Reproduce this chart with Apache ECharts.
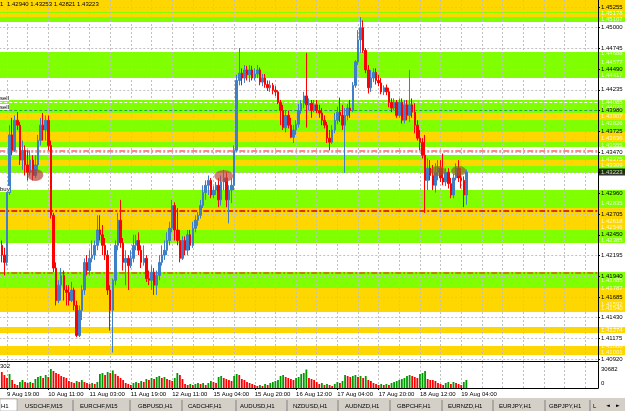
<!DOCTYPE html>
<html><head><meta charset="utf-8">
<script src="https://cdn.jsdelivr.net/npm/echarts@6/dist/echarts.min.js"></script>
<style>html,body{margin:0;padding:0;background:#fff;overflow:hidden}#c{width:625px;height:411px}</style>
</head><body><div id="c"></div>
<script>
// ---------------- DATA ----------------
const daySegs = [['9 Aug',16,23],['10 Aug',0,23],['11 Aug',0,23],['12 Aug',0,22],['15 Aug',0,23],['16 Aug',0,23],['17 Aug',0,23],['18 Aug',0,23],['19 Aug',0,23],['22 Aug',0,23],['23 Aug',0,9]];
// [open, close, low, high]
const ohlc = [
[1.4232,1.4220,1.4211,1.4238],[1.4220,1.4211,1.4195,1.4229],[1.4211,1.4297,1.4207,1.4302],[1.4297,1.4368,1.4294,1.4380],
[1.4368,1.4349,1.4343,1.4389],[1.4349,1.4386,1.4347,1.4392],[1.4386,1.4380,1.4374,1.4396],[1.4380,1.4337,1.4331,1.4384],
[1.4337,1.4349,1.4325,1.4361],[1.4349,1.4331,1.4318,1.4355],[1.4331,1.4322,1.4312,1.4349],[1.4322,1.4337,1.4318,1.4349],
[1.4337,1.4318,1.4312,1.4343],[1.4318,1.4331,1.4315,1.4343],[1.4331,1.4361,1.4325,1.4368],[1.4361,1.4380,1.4355,1.4389],
[1.4380,1.4374,1.4361,1.4395],[1.4374,1.4386,1.4361,1.4392],[1.4386,1.4355,1.4349,1.4392],[1.4355,1.4269,1.4265,1.4361],
[1.4269,1.4204,1.4199,1.4272],[1.4204,1.4164,1.4158,1.4211],[1.4164,1.4183,1.4161,1.4189],[1.4183,1.4195,1.4164,1.4204],
[1.4195,1.4177,1.4164,1.4201],[1.4177,1.4174,1.4158,1.4183],[1.4174,1.4164,1.4158,1.4183],[1.4164,1.4177,1.4162,1.4187],
[1.4177,1.4158,1.4152,1.4180],[1.4158,1.4121,1.4119,1.4164],[1.4121,1.4152,1.4119,1.4158],[1.4152,1.4177,1.4140,1.4183],
[1.4177,1.4211,1.4171,1.4216],[1.4211,1.4201,1.4195,1.4220],[1.4201,1.4216,1.4195,1.4226],[1.4216,1.4220,1.4211,1.4238],
[1.4220,1.4232,1.4214,1.4238],[1.4232,1.4251,1.4226,1.4269],[1.4251,1.4245,1.4238,1.4269],[1.4245,1.4232,1.4220,1.4257],
[1.4232,1.4220,1.4214,1.4241],[1.4220,1.4177,1.4171,1.4226],[1.4177,1.4152,1.4127,1.4183],[1.4152,1.4189,1.4100,1.4191],
[1.4189,1.4232,1.4183,1.4238],[1.4232,1.4263,1.4226,1.4272],[1.4263,1.4235,1.4229,1.4288],[1.4235,1.4211,1.4201,1.4241],
[1.4211,1.4216,1.4183,1.4226],[1.4216,1.4207,1.4177,1.4220],[1.4207,1.4216,1.4204,1.4226],[1.4216,1.4232,1.4211,1.4245],
[1.4232,1.4238,1.4226,1.4245],[1.4238,1.4226,1.4220,1.4248],[1.4226,1.4211,1.4204,1.4232],[1.4211,1.4216,1.4207,1.4232],
[1.4216,1.4191,1.4187,1.4220],[1.4191,1.4189,1.4183,1.4201],[1.4189,1.4199,1.4177,1.4207],[1.4199,1.4183,1.4171,1.4204],
[1.4183,1.4195,1.4171,1.4201],[1.4195,1.4211,1.4189,1.4220],[1.4211,1.4220,1.4207,1.4232],[1.4220,1.4226,1.4214,1.4238],
[1.4226,1.4238,1.4220,1.4248],[1.4238,1.4253,1.4232,1.4261],[1.4253,1.4281,1.4248,1.4288],[1.4281,1.4251,1.4238,1.4285],
[1.4251,1.4238,1.4232,1.4278],[1.4238,1.4216,1.4211,1.4251],[1.4216,1.4238,1.4214,1.4243],[1.4238,1.4226,1.4220,1.4243],
[1.4226,1.4245,1.4220,1.4251],[1.4245,1.4232,1.4226,1.4251],[1.4232,1.4253,1.4229,1.4261],[1.4253,1.4263,1.4248,1.4269],
[1.4263,1.4269,1.4256,1.4273],[1.4269,1.4281,1.4265,1.4288],[1.4281,1.4297,1.4278,1.4306],[1.4297,1.4306,1.4288,1.4312],
[1.4306,1.4312,1.4294,1.4318],[1.4312,1.4294,1.4290,1.4315],[1.4294,1.4300,1.4290,1.4305],[1.4300,1.4306,1.4294,1.4310],
[1.4306,1.4288,1.4279,1.4315],[1.4288,1.4310,1.4281,1.4318],[1.4310,1.4315,1.4300,1.4325],[1.4315,1.4288,1.4279,1.4322],
[1.4288,1.4300,1.4259,1.4306],[1.4300,1.4306,1.4284,1.4315],[1.4306,1.4349,1.4300,1.4355],[1.4349,1.4435,1.4347,1.4442],
[1.4435,1.4444,1.4429,1.4475],[1.4444,1.4438,1.4429,1.4450],[1.4438,1.4448,1.4432,1.4454],[1.4448,1.4442,1.4435,1.4453],
[1.4442,1.4448,1.4433,1.4454],[1.4448,1.4438,1.4435,1.4453],[1.4438,1.4443,1.4435,1.4450],[1.4443,1.4448,1.4438,1.4454],
[1.4448,1.4433,1.4429,1.4451],[1.4433,1.4438,1.4428,1.4443],[1.4438,1.4430,1.4426,1.4443],[1.4430,1.4426,1.4422,1.4435],
[1.4426,1.4429,1.4421,1.4435],[1.4429,1.4423,1.4418,1.4432],[1.4423,1.4421,1.4416,1.4428],[1.4421,1.4408,1.4406,1.4423],
[1.4408,1.4398,1.4380,1.4411],[1.4398,1.4377,1.4374,1.4405],[1.4377,1.4392,1.4371,1.4398],[1.4392,1.4380,1.4376,1.4398],
[1.4380,1.4365,1.4364,1.4389],[1.4365,1.4374,1.4358,1.4380],[1.4374,1.4381,1.4368,1.4386],[1.4381,1.4398,1.4377,1.4406],
[1.4398,1.4407,1.4394,1.4411],[1.4407,1.4416,1.4401,1.4421],[1.4416,1.4405,1.4377,1.4469],[1.4405,1.4407,1.4398,1.4413],
[1.4407,1.4398,1.4389,1.4411],[1.4398,1.4405,1.4396,1.4411],[1.4405,1.4398,1.4395,1.4411],[1.4398,1.4395,1.4389,1.4405],
[1.4395,1.4386,1.4380,1.4401],[1.4386,1.4380,1.4376,1.4392],[1.4380,1.4364,1.4358,1.4384],[1.4364,1.4359,1.4349,1.4374],
[1.4359,1.4374,1.4357,1.4380],[1.4374,1.4386,1.4370,1.4395],[1.4386,1.4396,1.4381,1.4403],[1.4396,1.4392,1.4384,1.4414],
[1.4392,1.4380,1.4374,1.4405],[1.4380,1.4392,1.4321,1.4401],[1.4392,1.4401,1.4386,1.4406],[1.4401,1.4398,1.4389,1.4411],
[1.4398,1.4429,1.4396,1.4433],[1.4429,1.4458,1.4426,1.4460],[1.4458,1.4485,1.4454,1.4497],[1.4485,1.4500,1.4469,1.4513],
[1.4500,1.4472,1.4469,1.4509],[1.4472,1.4448,1.4444,1.4475],[1.4448,1.4426,1.4419,1.4454],[1.4426,1.4438,1.4421,1.4448],
[1.4438,1.4445,1.4433,1.4450],[1.4445,1.4435,1.4430,1.4450],[1.4435,1.4432,1.4428,1.4442],[1.4432,1.4421,1.4418,1.4438],
[1.4421,1.4426,1.4417,1.4429],[1.4426,1.4421,1.4417,1.4430],[1.4421,1.4408,1.4402,1.4426],[1.4408,1.4401,1.4396,1.4413],
[1.4401,1.4408,1.4398,1.4413],[1.4408,1.4392,1.4389,1.4411],[1.4392,1.4408,1.4389,1.4413],[1.4408,1.4386,1.4382,1.4413],
[1.4386,1.4405,1.4382,1.4411],[1.4405,1.4392,1.4386,1.4411],[1.4392,1.4405,1.4384,1.4448],[1.4405,1.4396,1.4389,1.4413],
[1.4396,1.4380,1.4370,1.4407],[1.4380,1.4364,1.4361,1.4386],[1.4364,1.4359,1.4349,1.4374],[1.4359,1.4343,1.4339,1.4364],
[1.4343,1.4312,1.4272,1.4368],[1.4312,1.4327,1.4300,1.4339],[1.4327,1.4318,1.4312,1.4337],[1.4318,1.4306,1.4300,1.4331],
[1.4306,1.4322,1.4297,1.4333],[1.4322,1.4327,1.4312,1.4337],[1.4327,1.4315,1.4310,1.4337],[1.4315,1.4310,1.4306,1.4345],
[1.4310,1.4322,1.4305,1.4327],[1.4322,1.4308,1.4302,1.4327],[1.4308,1.4294,1.4290,1.4315],[1.4294,1.4315,1.4290,1.4320],
[1.4315,1.4327,1.4312,1.4333],[1.4327,1.4315,1.4310,1.4337],[1.4315,1.4312,1.4302,1.4327],[1.4312,1.4294,1.4279,1.4317],
[1.42940,1.43223,1.42821,1.43253]
];
const volumes = [
25840,21000,16150,22610,12920,6460,4850,9690,12920,9690,8075,9690,8075,14535,17765,19380,16150,21000,17765,30682,
27455,24225,22610,19380,17765,16150,11305,9690,8075,11305,9690,12920,9690,8075,6460,8075,6460,9690,22610,24225,
21000,25840,24225,28400,22610,19380,16150,12920,8075,6460,4850,8075,9690,8075,11305,9690,14535,12920,16150,14535,
17765,19380,16150,17765,14535,12920,11305,16150,24225,21000,14535,6460,4850,6460,4850,6460,8075,6460,8075,4850,
8075,11305,9690,8075,17765,19380,16150,14535,12920,11305,19380,22610,21000,14535,12920,9690,8075,6460,4850,3230,
4850,3230,6460,4850,8075,9690,11305,12920,19380,21000,17765,16150,14535,12920,16150,17765,22610,24225,29900,16150,
14535,12920,9690,6460,8075,4850,6460,4850,3230,6460,9690,8075,11305,21000,19380,17765,19380,21000,17765,19380,
16150,19380,12920,11305,8075,6460,4850,6460,4850,6460,4850,8075,9690,11305,12920,14535,16150,19380,21000,19380,
17765,16150,22610,24225,27455,14535,12920,12900,11305,8075,6460,4850,8075,9690,6460,9690,8075,6460,4850,9690,12920
];
const priceTickLabels = [1.45255,1.45000,1.44745,1.44490,1.44235,1.43980,1.43725,1.43470,1.42960,1.42705,1.42450,1.42195,1.41940,1.41685,1.41430,1.41175,1.40920];
const hiddenTick = [1.43215];
const volTickLabels = [0, 30682];
const bandHi = [1.45341,1.45193,1.45181,1.45132,1.44701,1.44110,1.43949,1.43863,1.43715,1.43592,1.43432,1.43371,1.43297,1.43001,1.42779,1.42509,1.41991,1.41794,1.41314,1.41080];
const bandLo = [1.45193,1.45181,1.45132,1.45070,1.44380,1.43949,1.43863,1.43715,1.43592,1.43531,1.43371,1.43297,1.43211,1.42779,1.42509,1.42349,1.41794,1.41499,1.41240,1.40969];
const bandKind = ['Y','G','Y','G','G','G','Y','G','Y','G','G','Y','G','G','Y','G','G','Y','Y','Y'];
const levelPrices = [1.44085,1.43986,1.43482,1.42743,1.41979];
const sideLabels = [1.45178,1.45107,1.44688,1.44577,1.44417,1.44085,1.44023,1.43907,1.43826,1.43636,1.43555,1.43375,1.43309,1.42835,1.42618,1.42546,1.42385,1.42016,1.41885,1.41787,1.41592,1.41540,1.41314,1.41274,1.41080,1.41001];
const ellipseCat = [14, 87, 170, 178];
const ellipsePrice = [1.43186, 1.43174, 1.43235, 1.43235];
const tabNames = ['USDCHF,M15','EURCHF,M15','GBPUSD,H1','CADCHF,H1','AUDUSD,H1','NZDUSD,H1','AUDNZD,H1','GBPCHF,H1','EURNZD,H1','EURJPY,H1','GBPJPY,H1','L'];

// ---------------- STYLE / LAYOUT ----------------
const FONT = 'Liberation Sans';
const YMIN = 1.40896, YMAX = 1.45341;
const BULL = '#3F7FC7', BEAR = '#FF0000';
const BAND_COLORS = {Y:'#FFD700', G:'#7FFF00'};
const levelStyles = [
  {color:'#FFFFFF', type:[3,2], width:1},
  {color:'#1FB51F', type:[3,2], width:1},
  {color:'#FF6464', type:[6,2,2,2], width:1.5},
  {color:'#D00000', type:[6,2,2,2], width:1.5},
  {color:'#B8860B', type:[6,2,2,2], width:2}
];
const ellipseSizes = [[16,12],[19,12],[15,10],[15,10]];
const ellipseColors = ['rgba(178,62,52,0.85)','rgba(190,70,60,0.85)','rgba(150,95,40,0.85)','rgba(150,95,40,0.85)'];

const cats = [];
daySegs.forEach(([d,a,b]) => { for (let h=a; h<=b; h++) cats.push(d+' '+String(h).padStart(2,'0')+':00'); });
const FIRST = 1;
const LAST = FIRST + ohlc.length - 1;
const labelInt = (k) => (k-3) % 16 === 0 && k <= LAST;
const gridInt = (k) => (k-3) % 8 === 0;

const bandAreas = bandHi.map((h,i) => [{yAxis:h, itemStyle:{color:BAND_COLORS[bandKind[i]]}}, {yAxis:bandLo[i]}]);
const splitStyle = {show:true, interval:gridInt, lineStyle:{color:'#C0C0C0', type:[2,2], width:1}};

const volData = ['-'].concat(volumes.map((v,i) => ({value:v, itemStyle:{color: (i>0 && v>volumes[i-1]) ? '#009A00' : '#FF0000'}})));
const last = ohlc[ohlc.length-1];
const headerText = [last[0], last[3], last[2], last[1]].map(v=>v.toFixed(5)).join(' ');

const option = {
  animation:false,
  backgroundColor:'#FFFFFF',
  textStyle:{fontFamily:FONT},
  grid:[
    {left:-0.75, right:27, top:0, height:361, outerBoundsMode:'none'},
    {left:-0.75, right:27, top:362, height:26, outerBoundsMode:'none'},
    {left:599, right:0, top:0, height:361, outerBoundsMode:'none'}
  ],
  xAxis:[
    {type:'category', gridIndex:0, data:cats, boundaryGap:false, z:3,
     axisLine:{show:true, lineStyle:{color:'#000', width:1}}, axisTick:{show:false}, axisLabel:{show:false},
     splitLine:splitStyle},
    {type:'category', gridIndex:1, data:cats, boundaryGap:false, z:3,
     axisLine:{show:true, lineStyle:{color:'#000', width:1}},
     axisTick:{show:true, interval:labelInt, length:2, lineStyle:{color:'#000'}},
     axisLabel:{show:true, interval:labelInt, align:'left', fontSize:6, color:'#000', margin:3, fontFamily:FONT},
     splitLine:splitStyle},
    {type:'value', gridIndex:2, min:0, max:1, show:false}
  ],
  yAxis:[
    {type:'value', gridIndex:0, position:'right', min:YMIN, max:YMAX, z:3,
     axisLine:{show:true, lineStyle:{color:'#000', width:1}},
     axisTick:{show:true, length:2, customValues:priceTickLabels.concat(hiddenTick), lineStyle:{color:'#000'}},
     axisLabel:{show:true, customValues:priceTickLabels, formatter:v=>v.toFixed(5), fontSize:6, color:'#000', margin:3, fontFamily:FONT},
     splitLine:{show:true, lineStyle:{color:'#C0C0C0', type:[2,2], width:1}}},
    {type:'value', gridIndex:1, position:'right', min:0, max:42000, z:3,
     axisLine:{show:true, lineStyle:{color:'#000', width:1}}, axisTick:{show:false},
     axisLabel:{show:true, customValues:volTickLabels, margin:3, color:'#000', fontSize:6,
       formatter:v=> v===0 ? '{z|0}' : '{t|'+v+'}',
       rich:{z:{fontSize:6, fontFamily:FONT, padding:[0,0,10,0]}, t:{fontSize:6, fontFamily:FONT}}},
     splitLine:{show:false}},
    {type:'value', gridIndex:2, min:YMIN, max:YMAX, show:false}
  ],
  series:[
    {type:'line', xAxisIndex:0, yAxisIndex:0, data:[], z:1, silent:true,
     markArea:{silent:true, z:1, data:bandAreas}},
    {type:'line', xAxisIndex:0, yAxisIndex:0, data:[], z:4, silent:true,
     markLine:{silent:true, z:4, precision:5, symbol:['none','none'], label:{show:false},
       data: levelPrices.map((p,i)=>({yAxis:p, lineStyle:levelStyles[i]}))}},
    {type:'candlestick', xAxisIndex:0, yAxisIndex:0, z:5, barWidth:2,
     data:['-'].concat(ohlc),
     itemStyle:{color:BULL, color0:BEAR, borderColor:BULL, borderColor0:BEAR, borderWidth:1}},
    {type:'scatter', xAxisIndex:0, yAxisIndex:0, z:6, silent:true,
     data: ellipseCat.map((c,i)=>({value:[c, ellipsePrice[i]], symbolSize:ellipseSizes[i], itemStyle:{color:ellipseColors[i]}})),
     symbol:'circle'},
    {type:'bar', xAxisIndex:1, yAxisIndex:1, z:5, barWidth:1.8, data:volData},
    {type:'scatter', xAxisIndex:2, yAxisIndex:2, z:2, silent:true, symbolSize:0,
     markArea:{silent:true, z:1, data:bandAreas},
     data: sideLabels.map(p=>[0,p]),
     label:{show:true, position:'right', distance:2, color:'#FFFFFF', fontSize:6, fontFamily:FONT,
       formatter:p=>p.value[1].toFixed(5)}},
    {type:'scatter', xAxisIndex:2, yAxisIndex:2, z:6, silent:true, symbolSize:0,
     data:[[0, last[1]]],
     label:{show:true, position:'right', distance:0, color:'#FFFFFF', backgroundColor:'#000000', padding:[1,3,0,2],
       fontSize:6, fontFamily:FONT, formatter:p=>p.value[1].toFixed(5)}}
  ],
  graphic:[]
};

// header + object labels + tab bar (UI text)
const g = option.graphic;
const txt = (x,y,t,extra) => Object.assign({type:'text', x:x, y:y, z:50, style:Object.assign({text:t, fill:'#000', font:'6px "'+FONT+'"'}, extra||{})});
g.push(txt(0,1,'1'));
g.push(txt(7,1,headerText));
g.push(txt(0,95,'sell',{backgroundColor:'#fff'}));
g.push(txt(0,104,'sell',{backgroundColor:'#fff'}));
g.push(txt(0,186,'buy',{backgroundColor:'#fff'}));
g.push(txt(0,363,'302'));
// tab bar
g.push({type:'rect', z:40, shape:{x:0,y:398,width:625,height:13}, style:{fill:'#D4D0C8'}});
g.push({type:'rect', z:41, shape:{x:0,y:399,width:17,height:12}, style:{fill:'#FFFFFF', stroke:'#808080', lineWidth:0.5}});
g.push(txt(1,403,'H1'));
const sepX = [73,130,182,236,287,338,390,442,493,545,590];
const tabX = [25,80,138,188,240,293,345,397,448,499,549,593];
tabNames.forEach((n,i)=>g.push(txt(tabX[i],403,n)));
sepX.forEach(x=>g.push({type:'line', z:42, shape:{x1:x,y1:400,x2:x,y2:411}, style:{stroke:'#808080', lineWidth:1}}));
g.push(txt(606,403,'◄',{font:'5px "DejaVu Sans"'}));
g.push(txt(616,403,'►',{font:'5px "DejaVu Sans"'}));

const chart = echarts.init(document.getElementById('c'), null, {renderer:'canvas'});
chart.setOption(option);
</script></body></html>
